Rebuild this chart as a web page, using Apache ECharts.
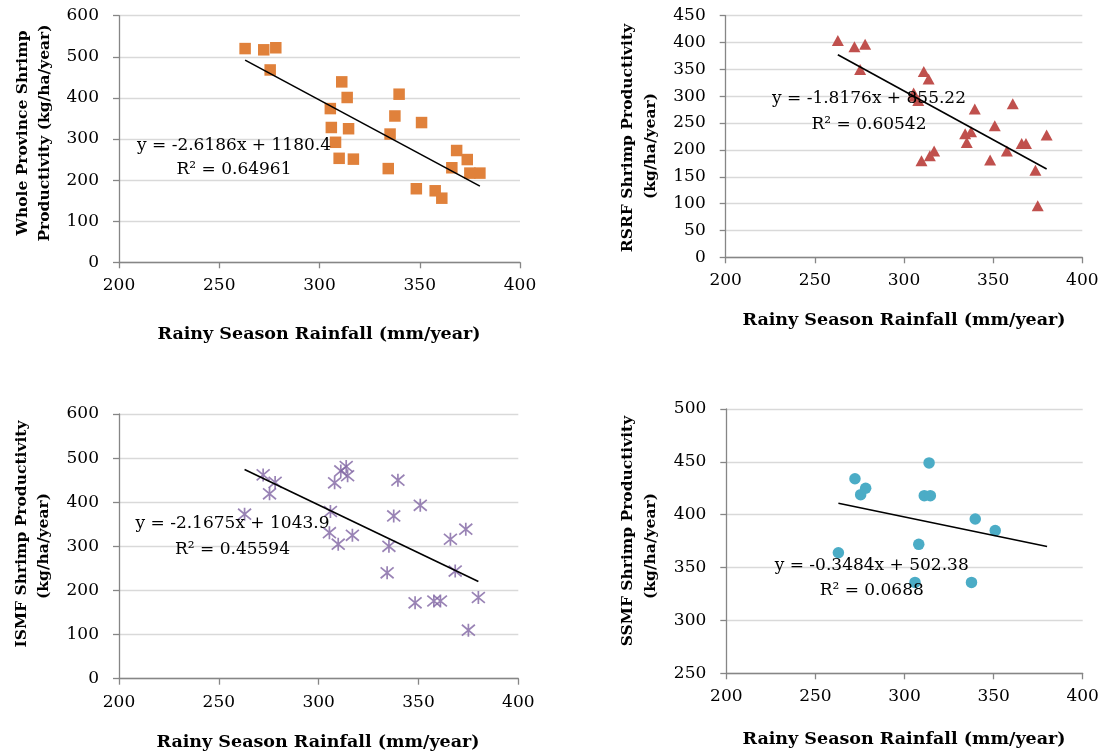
<!DOCTYPE html>
<html>
<head>
<meta charset="utf-8">
<script src="https://cdn.jsdelivr.net/npm/echarts@6/dist/echarts.min.js"></script>
<style>
  html, body { margin: 0; padding: 0; background: #ffffff; }
  #chart { width: 1111px; height: 756px; }
</style>
</head>
<body>
<div id="chart"></div>
<script>
// Rainy season rainfall (mm/year), one value per year, shared by all four panels
const rainfall = [262.9, 272.2, 275.4, 278.2, 305.4, 305.9, 308.0, 309.8, 311.1, 313.8, 314.5, 316.9,
                  334.3, 335.2, 337.6, 339.7, 348.3, 350.9, 357.7, 361.0, 366.0, 368.4, 373.7, 375.0, 380.0];

// Shrimp productivity (kg/ha/year) for the same years
const wholeProvince = [520, 517, 468, 522, 374, 328, 292, 253, 439, 401, 325, 251,
                       228, 312, 356, 409, 179, 340, 174, 156, 230, 272, 250, 217, 217];
const rsrf = [404, 392, 350, 397, 306, 300, 292, 180, 346, 332, 189, 198,
              230, 214, 234, 276, 181, 245, 198, 286, 212, 212, 162, 96, 228];
const ismf = [373, 462, 419, 445, 331, 379, 444, 305, 471, 481, 460, 325,
              240, 300, 369, 450, 172, 393, 176, 176, 316, 244, 339, 110, 184];
const ssmf = [364, 434, 419, 425, null, 336, 372, null, 418, 449, 418, null,
              null, null, 336, 396, null, 385, null, null, null, null, null, null, null];

// Linear trend lines printed on each panel
const slopes = [-2.6186, -1.8176, -2.1675, -0.3484];
const intercepts = [1180.4, 855.22, 1043.9, 502.38];
const rSquared = ['0.64961', '0.60542', '0.45594', '0.0688'];

// Axis ticks
const xTicks = [200, 250, 300, 350, 400];
const yMin = [0, 0, 0, 250];
const yMax = [600, 450, 600, 500];
const yStep = [100, 50, 100, 50];

const seriesValues = [wholeProvince, rsrf, ismf, ssmf];
const yTitles = [
  ['Whole Province Shrimp', 'Productivity (kg/ha/year)'],
  ['RSRF Shrimp Productivity', '(kg/ha/year)'],
  ['ISMF Shrimp Productivity', '(kg/ha/year)'],
  ['SSMF Shrimp Productivity', '(kg/ha/year)']
];
const xTitle = 'Rainy Season Rainfall (mm/year)';

// Layout and look of each panel
const panels = [
  { grid: { left: 119, top: 15.7, width: 401, height: 246.6 },
    symbol: 'rect', size: 11.5, color: '#E0813B',
    eq: [234, 146, 170], xt: [319, 334], yt: [[23, 133], [45, 133]] },
  { grid: { left: 725.7, top: 15.7, width: 356.6, height: 241.6 },
    symbol: 'triangle', size: [12, 11], color: '#C0504D',
    eq: [869, 99, 125], xt: [904, 320], yt: [[628, 138], [651, 146]] },
  { grid: { left: 119, top: 414, width: 399.3, height: 264.7 },
    symbol: 'path://M1,1L11,11M11,1L1,11M6,0L6,12', size: 13, color: '#8064A2', stroke: true,
    eq: [232.5, 524, 550], xt: [318, 742], yt: [[22, 534], [44, 546]] },
  { grid: { left: 726.3, top: 409, width: 356.4, height: 264.3 },
    symbol: 'circle', size: 11.5, color: '#4BACC6',
    eq: [871.7, 566, 591], xt: [904, 739], yt: [[628, 531], [651, 546]] }
];

const tickFont = 'DejaVu Serif';
const axisGray = '#868686';

const grids = [], xAxes = [], yAxes = [], series = [], graphics = [];

function textEl(x, y, text, font, rotation) {
  return {
    type: 'text', x: x, y: y, rotation: rotation || 0, z: 100,
    style: { text: text, font: font, fill: '#000000',
             align: 'center', verticalAlign: 'middle',
             textAlign: 'center', textVerticalAlign: 'middle' }
  };
}

panels.forEach(function (p, i) {
  grids.push(Object.assign({ containLabel: false }, p.grid));

  xAxes.push({
    type: 'value', gridIndex: i,
    min: xTicks[0], max: xTicks[xTicks.length - 1], interval: xTicks[1] - xTicks[0],
    splitLine: { show: false },
    axisLine: { show: true, onZero: false, lineStyle: { color: axisGray, width: 1.3 } },
    axisTick: { show: true, inside: false, length: 6, lineStyle: { color: axisGray, width: 1.3 } },
    axisLabel: { margin: 15, color: '#000', fontFamily: tickFont, fontSize: 17 }
  });

  yAxes.push({
    type: 'value', gridIndex: i,
    min: yMin[i], max: yMax[i], interval: yStep[i],
    splitLine: { show: true, lineStyle: { color: '#D9D9D9', width: 1.3 } },
    axisLine: { show: true, lineStyle: { color: axisGray, width: 1.3 } },
    axisTick: { show: true, inside: false, length: 6, lineStyle: { color: axisGray, width: 1.3 } },
    axisLabel: { margin: 20, color: '#000', fontFamily: tickFont, fontSize: 17 }
  });

  const vals = seriesValues[i];
  const pts = [];
  rainfall.forEach(function (r, k) {
    if (vals[k] !== null && vals[k] !== undefined) pts.push([r, vals[k]]);
  });

  series.push({
    type: 'scatter', xAxisIndex: i, yAxisIndex: i, z: 2,
    symbol: p.symbol, symbolSize: p.size,
    itemStyle: p.stroke
      ? { color: 'none', borderColor: p.color, borderWidth: 1.7 }
      : { color: p.color, opacity: 1 },
    emphasis: { disabled: true },
    data: pts
  });

  // trend line across the full rainfall range
  const x0 = Math.min.apply(null, rainfall);
  const x1 = Math.max.apply(null, rainfall);
  series.push({
    type: 'line', xAxisIndex: i, yAxisIndex: i, z: 3,
    symbol: 'none', silent: true,
    lineStyle: { color: '#000000', width: 1.6 },
    data: [[x0, slopes[i] * x0 + intercepts[i]], [x1, slopes[i] * x1 + intercepts[i]]]
  });

  // equation and R² labels
  const eqText = 'y = ' + slopes[i] + 'x + ' + intercepts[i];
  graphics.push(textEl(p.eq[0], p.eq[1], eqText, '17px "DejaVu Serif"'));
  graphics.push(textEl(p.eq[0], p.eq[2], 'R\u00B2 = ' + rSquared[i], '17px "DejaVu Serif"'));

  // axis titles
  graphics.push(textEl(p.xt[0], p.xt[1], xTitle, 'bold 17.5px "DejaVu Serif"'));
  graphics.push(textEl(p.yt[0][0], p.yt[0][1], yTitles[i][0], 'bold 15.5px "DejaVu Serif"', Math.PI / 2));
  graphics.push(textEl(p.yt[1][0], p.yt[1][1], yTitles[i][1], 'bold 15.5px "DejaVu Serif"', Math.PI / 2));
});

const chart = echarts.init(document.getElementById('chart'), null, { renderer: 'canvas' });
chart.setOption({
  animation: false,
  backgroundColor: '#ffffff',
  grid: grids,
  xAxis: xAxes,
  yAxis: yAxes,
  series: series,
  graphic: graphics
});
</script>
</body>
</html>
